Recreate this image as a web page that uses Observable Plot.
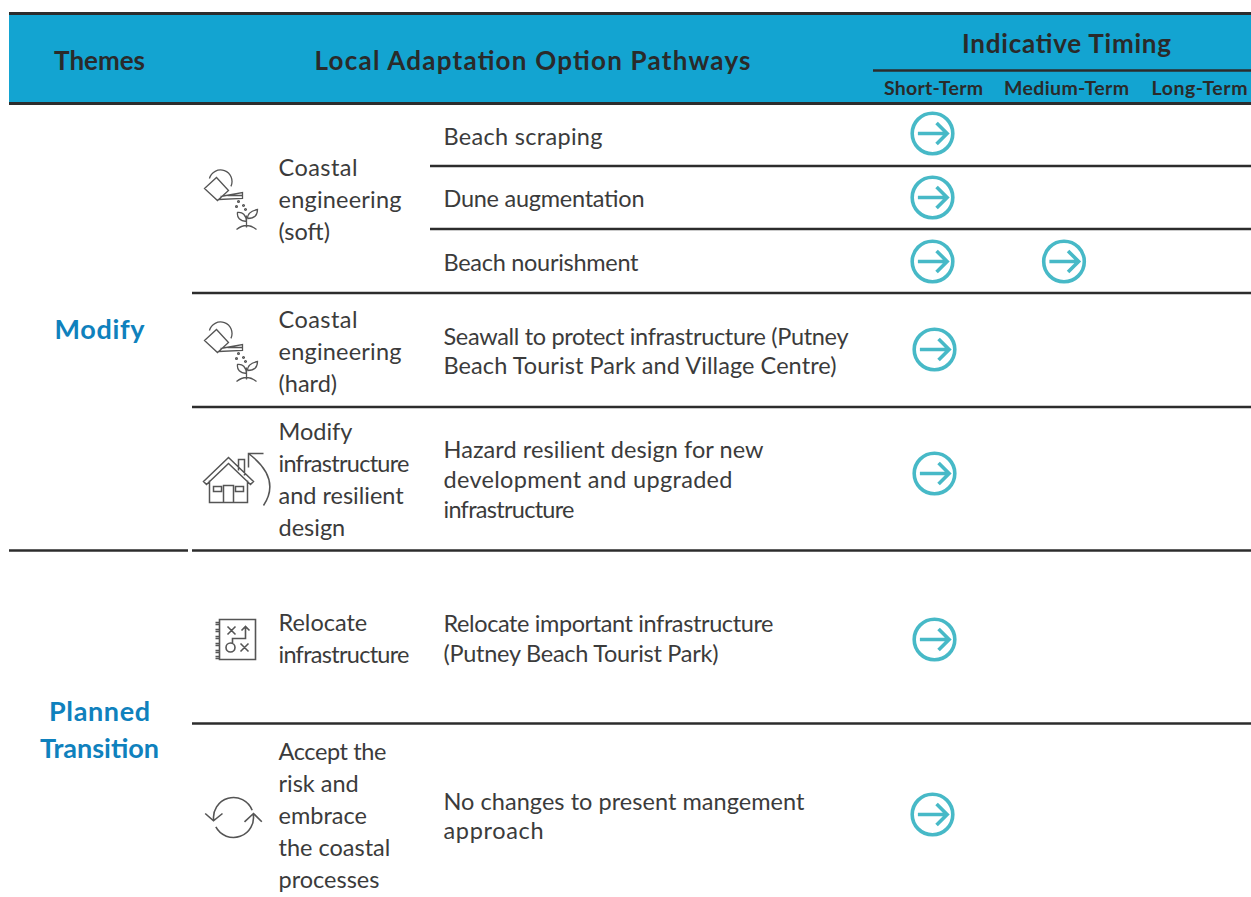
<!DOCTYPE html>
<html><head><meta charset="utf-8">
<script src="https://cdn.jsdelivr.net/npm/d3@7"></script>
<script src="https://cdn.jsdelivr.net/npm/@observablehq/plot@0.6"></script>
<style>html,body{margin:0;padding:0;background:#fff}svg{display:block}</style>
</head><body><div id="chart"></div>
<script>
// ---------- content ----------
const headers = ["Themes", "Local Adaptation Option Pathways", "Indicative Timing"];
const terms = ["Short-Term", "Medium-Term", "Long-Term"];
const themes = ["Modify", "Planned\nTransition"];
const pathways = [
  "Coastal\nengineering\n(soft)",
  "Coastal\nengineering\n(hard)",
  "Modify\ninfrastructure\nand resilient\ndesign",
  "Relocate\ninfrastructure",
  "Accept the\nrisk and\nembrace\nthe coastal\nprocesses"
];
const pathwayIcons = ["can", "can", "house", "plan", "cycle"];
const options = [
  "Beach scraping",
  "Dune augmentation",
  "Beach nourishment",
  "Seawall to protect infrastructure (Putney\nBeach Tourist Park and Village Centre)",
  "Hazard resilient design for new\ndevelopment and upgraded\ninfrastructure",
  "Relocate important infrastructure\n(Putney Beach Tourist Park)",
  "No changes to present mangement\napproach"
];
const timing = [
  {option: 0, term: "Short-Term"},
  {option: 1, term: "Short-Term"},
  {option: 2, term: "Short-Term"},
  {option: 2, term: "Medium-Term"},
  {option: 3, term: "Short-Term"},
  {option: 4, term: "Short-Term"},
  {option: 5, term: "Short-Term"},
  {option: 6, term: "Short-Term"}
];

// ---------- table layout (page grid, separate from the content) ----------
const W = 1251, H = 897;
const themeY = [327, 727];
const pathwayY = [197.5, 349.5, 477.5, 636.5, 813.5];
const optionY = [135, 197, 261, 349.5, 478, 637, 814.5];
const markerY = [133, 197, 261, 349, 473, 639, 814];
const markerX = {"Short-Term": 932, "Medium-Term": 1063.5, "Long-Term": 1198};
const markerShift = [0, 0, 0, 2, 2, 2, 0];
const termX = [933, 1066, 1199];
const iconAt = [[231, 202], [231, 354], [231, 480], [235, 639], [233, 817]];
const grid = [
  {x1: 9, x2: W, y: 13, w: 3},
  {x1: 873, x2: W, y: 70, w: 2.5},
  {x1: 9, x2: W, y: 103, w: 3},
  {x1: 430, x2: W, y: 165.5, w: 2.5},
  {x1: 430, x2: W, y: 228.5, w: 2.5},
  {x1: 192, x2: W, y: 292.5, w: 2.5},
  {x1: 192, x2: W, y: 406.5, w: 2.5},
  {x1: 9, x2: 188, y: 550, w: 2.5},
  {x1: 192, x2: W, y: 550, w: 2.5},
  {x1: 192, x2: W, y: 723, w: 2.5}
];
// set width of each line of text, in pixels, so the lines fill the same measure
const lineWidths = {
  "Local Adaptation Option Pathways": 436, "Indicative Timing": 209, "Themes": 91,
  "Short-Term": 99, "Medium-Term": 125, "Long-Term": 96,
  "Modify": 90, "Planned": 101, "Transition": 119,
  "Coastal": 79, "engineering": 123, "infrastructure": 131, "Accept the": 108,
  "Beach scraping": 159, "Dune augmentation": 201, "Beach nourishment": 195,
  "Seawall to protect infrastructure (Putney": 405,
  "Beach Tourist Park and Village Centre)": 393,
  "Hazard resilient design for new": 320,
  "development and upgraded": 289,
  "Relocate important infrastructure": 330,
  "(Putney Beach Tourist Park)": 275,
  "No changes to present mangement": 361,
  "approach": 100
};

// ---------- pictograms as custom dot symbols (r = 1 means one pixel per unit) ----------
const scaled = draw => ({draw(c, size) { draw(c, Math.sqrt(size / Math.PI)); }});
const poly = (c, k, pts, close) => {
  pts.forEach(([x, y], i) => i ? c.lineTo(x * k, y * k) : c.moveTo(x * k, y * k));
  if (close) c.closePath();
};
const circle = (c, k, x, y, r, a0 = 0, a1 = 2 * Math.PI) => {
  c.moveTo((x + r * Math.cos(a0)) * k, (y + r * Math.sin(a0)) * k);
  c.arc(x * k, y * k, r * k, a0, a1);
};
const deg = d => d * Math.PI / 180;
const symbols = {
  can: scaled((c, k) => {
    circle(c, k, -11, -21, 11.5, deg(-165), deg(25));
    poly(c, k, [[-27, -14], [-15, -25], [-3, -12], [-14, -2]], true);
    poly(c, k, [[-11, -6], [11, -10], [11, -4], [-13, -3]]);
    poly(c, k, [[-4, -7], [11, -7]]);
    [[7, -1], [12, 3], [5, 4], [14, 7]].forEach(([x, y]) => circle(c, k, x, y, 0.9));
    poly(c, k, [[15, 25], [15, 13]]);
    c.moveTo(15 * k, 19 * k); c.quadraticCurveTo(5 * k, 18 * k, 6 * k, 10 * k);
    c.quadraticCurveTo(14 * k, 9 * k, 15 * k, 19 * k);
    c.moveTo(16 * k, 16 * k); c.quadraticCurveTo(16 * k, 9 * k, 26 * k, 7 * k);
    c.quadraticCurveTo(26 * k, 16 * k, 16 * k, 16 * k);
    c.moveTo(5 * k, 27 * k); c.quadraticCurveTo(15 * k, 19 * k, 25 * k, 27 * k);
  }),
  house: scaled((c, k) => {
    poly(c, k, [[-28, 1], [-3, -23], [22, 1], [19, 4], [-3, -17], [-25, 4]], true);
    poly(c, k, [[-22, 0], [-22, 22], [16, 22], [16, 0]]);
    poly(c, k, [[-8, 22], [-8, 5], [2, 5], [2, 22]]);
    poly(c, k, [[-18, 6], [-10, 6], [-10, 11], [-18, 11]], true);
    poly(c, k, [[4, 6], [12, 6], [12, 11], [4, 11]], true);
    poly(c, k, [[7, -10], [7, -21], [13, -21], [13, -5]]);
    c.moveTo(32 * k, 25 * k); c.quadraticCurveTo(50 * k, -2 * k, 17 * k, -27 * k);
    poly(c, k, [[32, -27], [17, -27], [17, -13]]);
  }),
  plan: scaled((c, k) => {
    poly(c, k, [[-16, -20], [20, -20], [20, 20], [-16, 20]], true);
    [-16, -9, -2, 5, 12, 18].forEach(y => poly(c, k, [[-20, y - 1], [-16, y - 1]]));
    [-16, -9, -2, 5, 12, 18].forEach(y => poly(c, k, [[-20, y + 1], [-16, y + 1]]));
    poly(c, k, [[-8, -13], [0, -5]]); poly(c, k, [[0, -13], [-8, -5]]);
    poly(c, k, [[5, 4], [13, 12]]); poly(c, k, [[13, 4], [5, 12]]);
    circle(c, k, -5, 8, 4.5);
    poly(c, k, [[-3, 4], [-3, -1], [10, -1], [10, -13]]);
    poly(c, k, [[6, -9], [10, -13], [14, -9]]);
  }),
  cycle: scaled((c, k) => {
    circle(c, k, 0, 0, 20, deg(170), deg(339));
    circle(c, k, 0, 0, 20, deg(-11), deg(152));
    poly(c, k, [[-28.3, -4], [-20, 3.3], [-11, -4]]);
    poly(c, k, [[11, 4.3], [20, -4], [28.3, 4.3]]);
  })
};
const iconStroke = {can: 1.3, house: 1.5, plan: 1.6, cycle: 1.6};
const arrowCircle = scaled((c, k) => {
  circle(c, k, 0, 0, 1);
  poly(c, k, [[-0.72, 0], [0.72, 0]]);
  poly(c, k, [[0.2, -0.52], [0.72, 0], [0.2, 0.52]]);
});

// ---------- chart ----------
const ink = "#2a2a2a", body = "#3b3b3b", blue = "#0f81bd", teal = "#47b9c7";
const font = "Lato, sans-serif";
const text = (rows, o) => Plot.text(rows, {lineAnchor: "middle", fontFamily: font, ...o});

const chart = Plot.plot({
  width: W, height: H,
  margin: 0,
  x: {axis: null, domain: [0, W], range: [0, W]},
  y: {axis: null, domain: [0, H], range: [0, H]},
  style: {background: "#fff", overflow: "visible"},
  marks: [
    Plot.rect([0], {x1: 9, x2: W, y1: 13, y2: 103, fill: "#13a4d1"}),
    Plot.ruleY(grid, {x1: "x1", x2: "x2", y: "y", strokeWidth: "w", stroke: "#2c2c2c"}),

    text(headers, {text: d => d,
      x: (d, i) => [99, 532, 1066][i], y: (d, i) => [61, 61, 44][i],
      fontSize: 26, fontWeight: 700, fill: ink}),
    text(terms, {text: d => d, x: (d, i) => termX[i], y: 88,
      fontSize: 19.5, fontWeight: 700, fill: ink}),

    text(themes, {text: d => d, x: 99, y: (d, i) => themeY[i],
      fontSize: 27, fontWeight: 700, fill: blue, lineHeight: 1.37}),

    text(pathways, {text: d => d, x: 278, y: (d, i) => pathwayY[i],
      textAnchor: "start", fontSize: 23.5, fill: body, lineHeight: 1.36}),
    text(options, {text: d => d, x: 443, y: (d, i) => optionY[i],
      textAnchor: "start", fontSize: 23.5, fill: body, lineHeight: 1.27}),

    ...pathwayIcons.map((name, i) => Plot.dot([name], {
      x: iconAt[i][0], y: iconAt[i][1], r: 1,
      symbol: symbols[name], fill: "none", stroke: "#555", strokeWidth: iconStroke[name]
    })),

    Plot.dot(timing, {
      x: d => markerX[d.term] + (d.term === "Short-Term" ? markerShift[d.option] : 0),
      y: d => markerY[d.option],
      r: 20.3, symbol: arrowCircle, fill: "none", stroke: teal, strokeWidth: 3.6
    })
  ]
});
document.getElementById("chart").append(chart);
chart.querySelectorAll("text").forEach(t => {
  const lines = t.querySelectorAll("tspan");
  (lines.length ? [...lines] : [t]).forEach(line => {
    const w = lineWidths[line.textContent];
    // the same word can occur at another size; only fit lines that are already close
    if (w && Math.abs(w / line.getComputedTextLength() - 1) < 0.1) {
      line.setAttribute("textLength", w);
      line.setAttribute("lengthAdjust", "spacing");
    }
  });
});
</script></body></html>
